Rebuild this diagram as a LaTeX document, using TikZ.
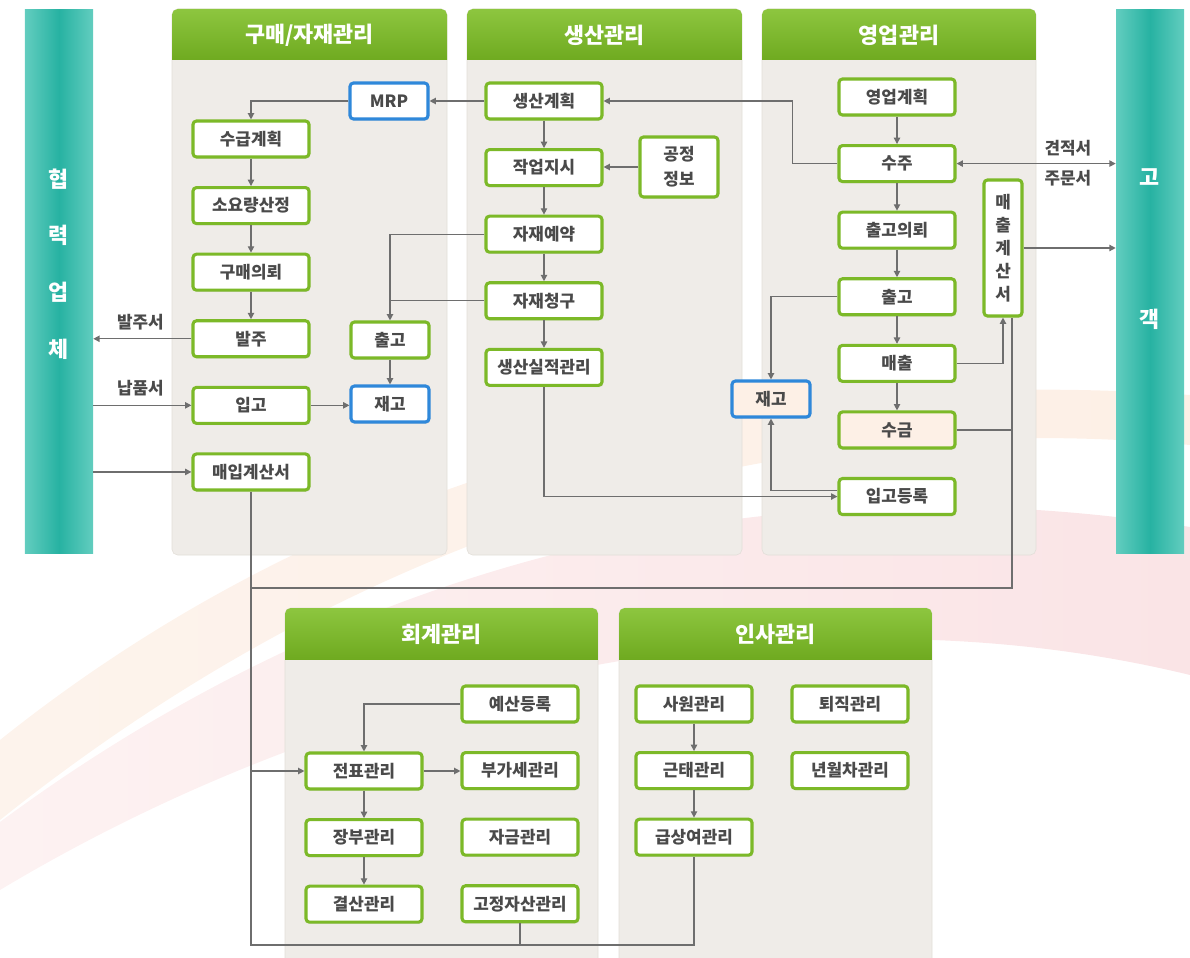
\documentclass[tikz,border=0pt]{standalone}
\usepackage{fontspec}
\setmainfont{Noto Sans CJK KR}
\usepackage{tikz}
\usetikzlibrary{arrows.meta, positioning, shadows}

\definecolor{leaf}{HTML}{7CB928}
\definecolor{leaftop}{HTML}{8DC63F}
\definecolor{leafbot}{HTML}{6FAA20}
\definecolor{sky}{HTML}{2F88DA}
\definecolor{sea}{HTML}{27B2A2}
\definecolor{sealight}{HTML}{62CDBF}
\definecolor{panelfill}{HTML}{EFECE8}
\definecolor{panelline}{HTML}{E2DED8}
\definecolor{wiregray}{HTML}{6E6E6E}
\definecolor{ink}{HTML}{4A4A4A}
\definecolor{peach}{HTML}{FDF0E6}
\definecolor{peachpale}{HTML}{FDF3EC}
\definecolor{blush}{HTML}{FAE4E6}
\definecolor{blushpale}{HTML}{FDF2F2}

\tikzset{
  box/.style={draw=leaf, line width=2.2pt, rounded corners=2.5pt, fill=white,
    text=ink, font=\fontsize{12}{14}\selectfont\bfseries, inner sep=1pt,
    minimum width=2.9cm, minimum height=0.9cm,
    drop shadow={shadow xshift=0.8pt, shadow yshift=-1.2pt, opacity=0.18}},
  shortbox/.style={box, minimum width=1.95cm},
  stock/.style={shortbox, draw=sky},
  bar/.style={left color=sealight, right color=sealight, middle color=sea,
    minimum width=1.7cm, minimum height=13.575cm, inner sep=0pt},
  bartext/.style={text=white, font=\fontsize{15.5}{40.4}\selectfont\bfseries, align=center},
  link/.style={draw=wiregray, line width=0.9pt},
  flow/.style={link, -{Triangle[length=4.5pt, width=4.5pt]}},
  twoway/.style={link, {Triangle[length=4.5pt, width=4.5pt]}-{Triangle[length=4.5pt, width=4.5pt]}},
  lbl/.style={text=ink, font=\fontsize{12}{14}\selectfont\bfseries, inner sep=1pt},
}

% #1 left, #2 right, #3 top, #4 bottom, #5 title, #6 name
\newcommand{\modpanel}[6]{
  \filldraw[fill=panelfill, draw=panelline, rounded corners=4pt] (#1,#3) rectangle (#2,#4);
  \begin{scope}
    \clip[rounded corners=4pt] (#1,#3) rectangle (#2,#4);
    \shade[top color=leaftop, bottom color=leafbot] (#1,#3) rectangle (#2,#3+51);
  \end{scope}
  \node[text=white, font=\fontsize{15.5}{18}\selectfont\bfseries] (#6) at ({(#1+#2)/2},#3+26) {#5};
}

\begin{document}
\begin{tikzpicture}[x=0.025cm, y=-0.025cm, node distance=0.687cm]
    \useasboundingbox (0,0) rectangle (1190,958);
    \clip (0,0) rectangle (1190,958);

    % background swoosh
    \shade[left color=peachpale, right color=peach]
      (0,740) .. controls (300,500) and (700,360) .. (1190,395)
      -- (1190,445) .. controls (700,400) and (300,580) .. (0,820) -- cycle;
    \shade[left color=blushpale, right color=blush]
      (0,822) .. controls (300,600) and (700,450) .. (1190,527)
      -- (1190,675) .. controls (800,580) and (350,680) .. (0,890) -- cycle;

    % partner and customer bars
    \node[bar] (vend) at (59,281.5) {};
    \node[bartext] (vendtxt) at (59,264) {협\\력\\업\\체};
    \node[bar] (cust) at (1150,281.5) {};
    \node[bartext, font=\fontsize{15.5}{100.7}\selectfont\bfseries] (custtxt) at (1150,249) {고\\객};

    % panels
    \modpanel{172}{447}{9}{555}{구매/자재관리}{buyhead}
    \modpanel{467}{742}{9}{555}{생산관리}{prodhead}
    \modpanel{762}{1036}{9}{555}{영업관리}{salehead}
    \modpanel{285}{598}{608}{990}{회계관리}{accthead}
    \modpanel{619}{932}{608}{990}{인사관리}{hrhead}

    % 구매/자재관리
    \node[stock] (mrp) at (389,101) {MRP};
    \node[box] (b1) at (251,139) {수급계획};
    \node[box, below=of b1] (b2) {소요량산정};
    \node[box, below=of b2] (b3) {구매의뢰};
    \node[box, below=of b3] (b4) {발주};
    \node[box, below=of b4] (b5) {입고};
    \node[box, below=of b5] (b6) {매입계산서};
    \node[shortbox] (b7) at (390,340) {출고};
    \node[stock] (b8) at (390,404) {재고};

    % 생산관리
    \node[box] (p1) at (544,101) {생산계획};
    \node[box, below=of p1] (p2) {작업지시};
    \node[box, below=of p2] (p3) {자재예약};
    \node[box, below=of p3] (p4) {자재청구};
    \node[box, below=of p4] (p5) {생산실적관리};
    \node[shortbox, minimum height=1.5cm, align=center, font=\fontsize{12}{17.5}\selectfont\bfseries] (p6) at (679,167) {공정\\정보};

    % 영업관리
    \node[box] (s1) at (897,97) {영업계획};
    \node[box, below=of s1] (s2) {수주};
    \node[box, below=of s2] (s3) {출고의뢰};
    \node[box, below=of s3] (s4) {출고};
    \node[box, below=of s4] (s5) {매출};
    \node[box, below=of s5, fill=peach] (s6) {수금};
    \node[box, below=of s6] (s7) {입고등록};
    \node[stock, fill=peach] (s8) at (771,399) {재고};
    \node[box, minimum width=0.95cm, minimum height=3.4cm, align=center, font=\fontsize{12}{16.3}\selectfont\bfseries] (s9) at (1003,248) {매\\출\\계\\산\\서};

    % 회계관리
    \node[box] (a1) at (520,704) {예산등록};
    \node[box, below=of a1] (a3) {부가세관리};
    \node[box, below=of a3] (a5) {자금관리};
    \node[box, below=of a5] (a7) {고정자산관리};
    \node[box] (a2) at (364,771) {전표관리};
    \node[box, below=of a2] (a4) {장부관리};
    \node[box, below=of a4] (a6) {결산관리};

    % 인사관리
    \node[box] (h1) at (694,704) {사원관리};
    \node[box, below=of h1] (h2) {근태관리};
    \node[box, below=of h2] (h3) {급상여관리};
    \node[box] (h4) at (850,704) {퇴직관리};
    \node[box, below=of h4] (h5) {년월차관리};

    % flows inside the panels
    \foreach \u/\v in {b1/b2, b2/b3, b3/b4, b7/b8, p1/p2, p2/p3, p3/p4, p4/p5,
                       s1/s2, s2/s3, s3/s4, s4/s5, s5/s6, a2/a4, a4/a6, h1/h2, h2/h3}
        \draw[flow] (\u) -- (\v);
    \draw[flow] (mrp.west) -| (b1.north);
    \draw[flow] (p1.west) -- (mrp.east);
    \draw[flow] (b5.east) -- (b5.east -| b8.west);
    \draw[flow] (p3.west) -| (b7.north);
    \draw[link] (p4.west) -- (p4.west -| b7.north);
    \draw[flow] (p6.west) -- (p6.west -| p2.east);
    \draw[flow] (p5.south) |- (s7.west);
    \draw[flow] ([yshift=4.3pt]s7.west) -| (s8.south);
    \draw[flow] (s4.west) -| (s8.north);
    \draw[flow] (s2.west) -- ++(-45,0) |- (p1.east);
    \draw[flow] (s5.east) -| (s9.south);
    \draw[flow] (a1.west) -| (a2.north);
    \draw[flow] (a2.east) -- (a2.east -| a3.west);

    % partners and customers
    \draw[flow] (b4.west) -- (b4.west -| vend.east)
        node[lbl, above=5pt, pos=0.52] (ordtxt) {발주서};
    \draw[flow] (vend.east |- b5.west) -- (b5.west)
        node[lbl, above=5pt, pos=0.48] (dlvtxt) {납품서};
    \draw[flow] (vend.east |- b6.west) -- (b6.west);
    \draw[twoway] (s2.east) -- (s2.east -| cust.west)
        node[lbl, above=4pt, pos=0.7] (esttxt) {견적서}
        node[lbl, below=3pt, pos=0.7] (podtxt) {주문서};
    \draw[flow] (s9.east) -- (s9.east -| cust.west);

    % bus to accounting
    \coordinate (busR) at ([xshift=6.4pt]s9.south);
    \coordinate (hbus) at (0,588);
    \coordinate (base) at (0,945);
    \draw[link] (b6.south) -- (b6.south |- base) -| (h3.south);
    \draw[link] (b6.south |- hbus) -| (busR);
    \draw[link] (s6.east) -- (s6.east -| busR);
    \draw[link] (a7.south) -- (a7.south |- base);
    \draw[flow] (b6.south |- a2.west) -- (a2.west);
\end{tikzpicture}
\end{document}
